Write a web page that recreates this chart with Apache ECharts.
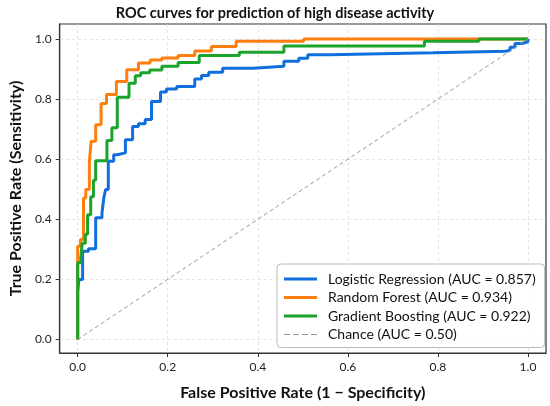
<!DOCTYPE html>
<html>
<head>
<meta charset="utf-8">
<script src="https://cdn.jsdelivr.net/npm/echarts@6/dist/echarts.min.js"></script>
<style>
html, body { margin: 0; padding: 0; background: #fff; }
#root { width: 550px; height: 406px; }
</style>
</head>
<body>
<div id="root"></div>
<script>
const tickValues = [0, 0.2, 0.4, 0.6, 0.8, 1.0]

const lrName = 'Logistic Regression (AUC = 0.857)'
const lrFpr = [0, 0, 0.003, 0.011, 0.024, 0.04, 0.054, 0.058, 0.062, 0.068, 0.08, 0.088, 0.106, 0.122, 0.135, 0.15, 0.164, 0.184, 0.197, 0.22, 0.26, 0.275, 0.291, 0.322, 0.39, 0.458, 0.491, 0.511, 0.559, 0.789, 0.949, 0.96, 0.971, 0.987, 1]
const lrTpr = [0, 0.16, 0.2, 0.294, 0.302, 0.405, 0.421, 0.471, 0.499, 0.593, 0.615, 0.621, 0.665, 0.709, 0.718, 0.732, 0.792, 0.824, 0.834, 0.842, 0.867, 0.879, 0.889, 0.903, 0.909, 0.926, 0.936, 0.948, 0.954, 0.959, 0.962, 0.973, 0.985, 0.991, 1]

const rfName = 'Random Forest (AUC = 0.934)'
const rfFpr = [0, 0, 0.006, 0.013, 0.018, 0.026, 0.03, 0.04, 0.052, 0.064, 0.086, 0.109, 0.135, 0.161, 0.187, 0.223, 0.26, 0.297, 0.352, 0.502, 1]
const rfTpr = [0, 0.31, 0.333, 0.471, 0.499, 0.59, 0.66, 0.715, 0.785, 0.815, 0.859, 0.898, 0.92, 0.93, 0.937, 0.945, 0.96, 0.975, 0.993, 1, 1]

const gbName = 'Gradient Boosting (AUC = 0.922)'
const gbFpr = [0, 0, 0.007, 0.01, 0.017, 0.022, 0.029, 0.035, 0.04, 0.065, 0.076, 0.088, 0.114, 0.128, 0.14, 0.16, 0.187, 0.223, 0.27, 0.359, 0.458, 0.77, 0.891, 1]
const gbTpr = [0, 0.255, 0.272, 0.32, 0.35, 0.415, 0.475, 0.53, 0.595, 0.662, 0.705, 0.806, 0.853, 0.878, 0.888, 0.897, 0.909, 0.922, 0.945, 0.956, 0.977, 0.993, 1, 1]

const chanceName = 'Chance (AUC = 0.50)'
const chanceFpr = [0, 1]
const chanceTpr = [0, 1]

const zip = (xs, ys) => xs.map((x, i) => [x, ys[i]])

const font = 'Lato'
// dashed bar for the chance entry in the legend
const dashIcon = 'path://M0,0h6v1h-6zM9,0h6v1h-6zM18,0h6v1h-6zM27,0h6v1h-6z'

const rocLine = (name, xs, ys, color) => ({
	name,
	type: 'line',
	step: 'end',
	symbol: 'none',
	data: zip(xs, ys),
	lineStyle: { color, width: 3 },
	itemStyle: { color },
	emphasis: { disabled: true },
	animation: false
})

const axisBase = {
	type: 'value',
	nameLocation: 'middle',
	nameTextStyle: { fontFamily: font, fontSize: 16, fontWeight: 'bold', color: '#111' },
	axisLine: { show: true, onZero: false, lineStyle: { color: '#333', width: 1.2 } },
	axisTick: { show: true, inside: false, length: 4, customValues: tickValues, lineStyle: { color: '#333' } },
	axisLabel: { customValues: tickValues, fontFamily: font, fontSize: 12, color: '#222', formatter: v => v.toFixed(1) },
	splitLine: { show: true, lineStyle: { color: '#dcdcdc', type: [3, 3], width: 0.8 } }
}

const chart = echarts.init(document.getElementById('root'))
chart.setOption({
	backgroundColor: '#fff',
	title: {
		text: 'ROC curves for prediction of high disease activity',
		left: 'center',
		top: 1,
		textStyle: { fontFamily: font, fontSize: 14.5, fontWeight: 'bold', color: '#111' }
	},
	grid: { left: 53, right: 4, top: 24, bottom: 53, show: true, borderColor: '#333', borderWidth: 1.2, backgroundColor: 'transparent' },
	xAxis: Object.assign({}, axisBase, {
		name: 'False Positive Rate (1 − Specificity)',
		nameGap: 32,
		min: -0.04,
		max: 1.04
	}),
	yAxis: Object.assign({}, axisBase, {
		name: 'True Positive Rate (Sensitivity)',
		nameGap: 33,
		min: -0.045,
		max: 1.05
	}),
	legend: {
		orient: 'vertical',
		left: 277,
		top: 264,
		itemWidth: 33,
		itemHeight: 3,
		itemGap: 4.5,
		padding: [8, 9, 6, 7],
		backgroundColor: 'rgba(255,255,255,0.85)',
		borderColor: '#bbb',
		borderWidth: 1,
		borderRadius: 4,
		textStyle: { fontFamily: font, fontSize: 14, color: '#111', padding: [0, 0, 0, 6] },
		data: [
			{ name: lrName, icon: 'rect' },
			{ name: rfName, icon: 'rect' },
			{ name: gbName, icon: 'rect' },
			{ name: chanceName, icon: dashIcon }
		]
	},
	series: [
		rocLine(lrName, lrFpr, lrTpr, '#0f6fde'),
		rocLine(rfName, rfFpr, rfTpr, '#ff7f0e'),
		rocLine(gbName, gbFpr, gbTpr, '#1ca32c'),
		{
			name: chanceName,
			type: 'line',
			symbol: 'none',
			data: zip(chanceFpr, chanceTpr),
			lineStyle: { color: '#999', width: 1, type: [4, 3] },
			itemStyle: { color: '#999' },
			emphasis: { disabled: true },
			animation: false
		}
	]
})
</script>
</body>
</html>
